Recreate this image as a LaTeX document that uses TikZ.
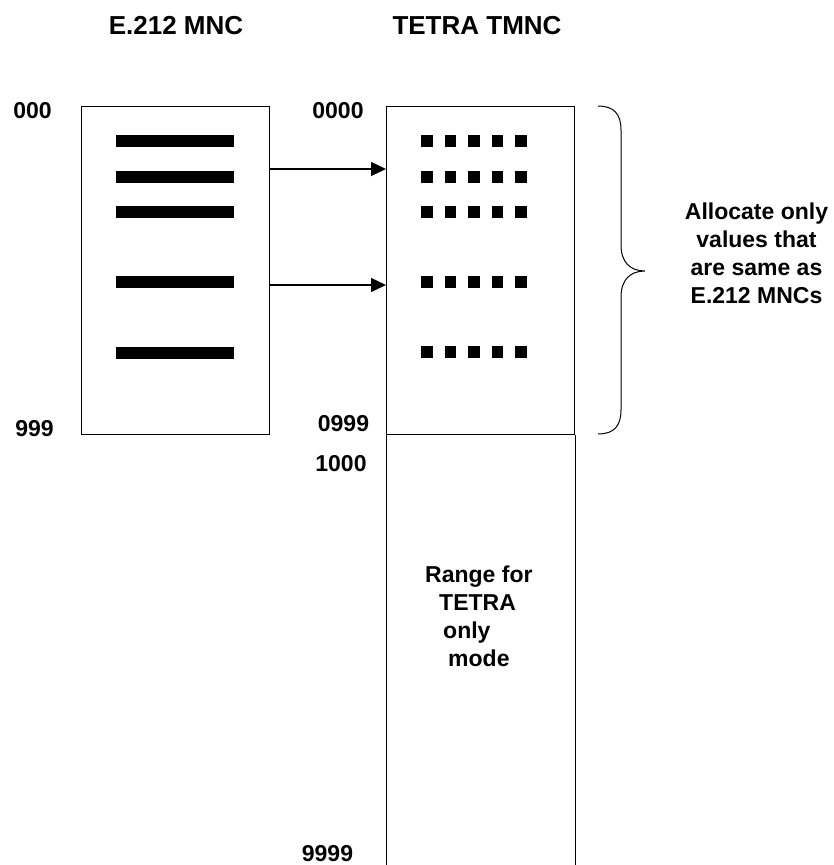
\documentclass[tikz,border=0pt]{standalone}
\usepackage{fontspec}
\setmainfont{Liberation Sans}
\usetikzlibrary{positioning,arrows.meta}

\begin{document}
\begin{tikzpicture}[x=1pt,y=-1pt,
  lbl/.style={font=\fontsize{23}{28}\selectfont\bfseries,inner sep=0pt,anchor=base},
  ttl/.style={font=\fontsize{26}{30}\selectfont\bfseries,inner sep=0pt,anchor=base},
  rangebox/.style={draw,line width=1pt,minimum width=188pt,minimum height=328pt,inner sep=0pt},
  >={Triangle[length=15pt,width=14pt]}
]
  \useasboundingbox (0,0) rectangle (834,865);
  % headings
  \node[ttl] (e212title) at (176,34) {E.212 MNC};
  \node[ttl] (tmnctitle) at (477,34) {TETRA TMNC};
  % the two number ranges
  \node[rangebox] (e212) at (175,270) {};
  \node[rangebox] (same) at (480.5,270) {};
  \draw[line width=1pt] (same.south west) -- ++(0,440);
  \draw[line width=1pt] (same.south east) -- ++(0,440);
  % used MNCs and matching TMNCs
  \foreach \y in {141,177,212,282,353}
    \fill (116,\y-6) rectangle (234,\y+6);
  \foreach \y in {141,177,212,282,352}
    \foreach \x in {421,444.5,468,491.5,515}
      \fill (\x,\y-5.75) rectangle ++(11.5,11.5);
  \coordinate (a1) at (e212.east |- 0,169);
  \coordinate (a2) at (e212.east |- 0,285);
  \draw[->,line width=1.3pt] (a1) -- (a1 -| same.west);
  \draw[->,line width=1.3pt] (a2) -- (a2 -| same.west);
  % range limits
  \node[lbl] (lo1) at (32.5,118) {000};
  \node[lbl] (hi1) at (34.5,436) {999};
  \node[lbl] (lo2) at (338,118) {0000};
  \node[lbl] (hi2) at (343.5,431) {0999};
  \node[lbl] (lo3) at (341,471) {1000};
  \node[lbl] (hi3) at (327.5,861) {9999};
  \node[lbl,anchor=base west,align=left] (tetraonly) at (425,666)
    {Range for\\\hspace*{14pt}TETRA\\\hspace*{18pt}only\\\hspace*{23pt}mode};
  % brace and its note
  \draw[line width=1pt] (598,106) .. controls (614,106) and (621,114) .. (621,130)
    -- (621,245) .. controls (621,262) and (630,271) .. (645,271)
    .. controls (630,271) and (621,280) .. (621,297)
    -- (621,410) .. controls (621,426) and (614,434) .. (598,434);
  \node[lbl,align=center] (note) at (756.5,303)
    {Allocate only\\values that\\are same as\\E.212 MNCs};
\end{tikzpicture}
\end{document}
